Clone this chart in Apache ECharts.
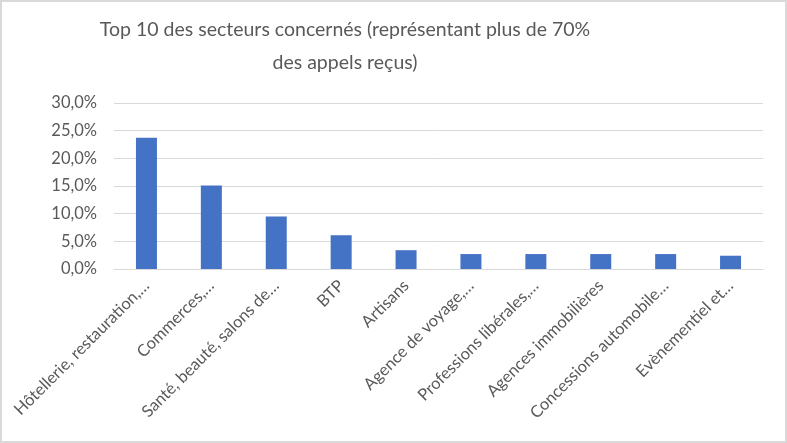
<!DOCTYPE html>
<html>
<head>
<meta charset="utf-8">
<script src="https://cdn.jsdelivr.net/npm/echarts@6/dist/echarts.min.js"></script>
<style>html,body{margin:0;padding:0;background:#fff}#c{width:787px;height:443px}</style>
</head>
<body>
<div id="c"></div>
<script>
const categories = [
  "Hôtellerie, restauration,…",
  "Commerces,…",
  "Santé, beauté, salons de…",
  "BTP",
  "Artisans",
  "Agence de voyage,…",
  "Professions libérales,…",
  "Agences immobilières",
  "Concessions automobile…",
  "Evènementiel et…"
];
const values = [23.7, 15.1, 9.5, 6.1, 3.4, 2.7, 2.7, 2.7, 2.7, 2.4];
const yTicks = [0, 5, 10, 15, 20, 25, 30];

const chart = echarts.init(document.getElementById('c'));
chart.setOption({
  animation: false,
  backgroundColor: '#fff',
  textStyle: { fontFamily: 'Lato' },
  title: {
    text: 'Top 10 des secteurs concernés (représentant plus de 70%\ndes appels reçus)',
    left: 340,
    top: 8,
    textAlign: 'center',
    textStyle: { fontFamily: 'Lato', fontSize: 19.5, fontWeight: 'normal', color: '#595959', lineHeight: 33, align: 'center' }
  },
  graphic: [{
    type: 'rect', silent: true,
    shape: { x: 1, y: 1, width: 785, height: 441 },
    style: { fill: 'none', stroke: '#d9d9d9', lineWidth: 2 }
  }],
  grid: { left: 114, right: 24, top: 103, bottom: 174 },
  xAxis: {
    type: 'category',
    data: categories,
    axisLine: { show: true, lineStyle: { color: '#d9d9d9', width: 1 } },
    axisTick: { show: false },
    axisLabel: { rotate: 45, interval: 0, color: '#595959', fontSize: 16.5, fontFamily: 'Lato', margin: 14,
      padding: [0, 0, 0, 0] }
  },
  yAxis: {
    type: 'value',
    min: yTicks[0], max: yTicks[yTicks.length - 1], interval: 5,
    axisLine: { show: false },
    axisTick: { show: false },
    splitLine: { lineStyle: { color: '#d9d9d9', width: 1 } },
    axisLabel: { color: '#595959', fontSize: 16.5, fontFamily: 'Lato', margin: 17,
      formatter: v => v.toFixed(1).replace('.', ',') + '%' }
  },
  series: [{
    type: 'bar',
    data: values,
    barWidth: 21,
    itemStyle: { color: '#4472c4' }
  }]
});
</script>
</body>
</html>
